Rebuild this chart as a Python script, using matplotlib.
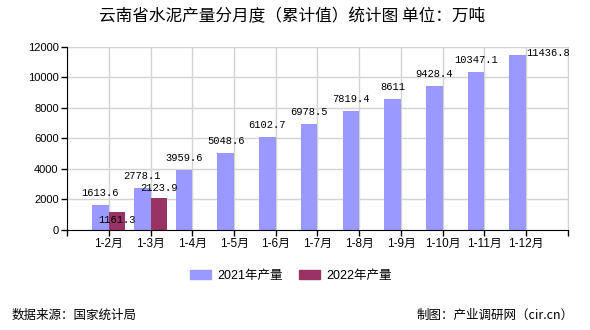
import numpy as np
import matplotlib
matplotlib.use("Agg")
import matplotlib.pyplot as plt
from matplotlib.patches import Patch

plt.rcParams['font.family'] = ['Liberation Sans', 'Noto Sans CJK SC', 'DejaVu Sans']

# cumulative cement output, 10k tons
months = ['1-2月', '1-3月', '1-4月', '1-5月', '1-6月', '1-7月', '1-8月',
          '1-9月', '1-10月', '1-11月', '1-12月']
out_2021 = [1613.6, 2778.1, 3959.6, 5048.6, 6102.7, 6978.5, 7819.4,
            8611, 9428.4, 10347.1, 11436.8]
out_2022 = [1161.3, 2123.9]
label_2021 = ['1613.6', '2778.1', '3959.6', '5048.6', '6102.7', '6978.5', '7819.4',
              '8611', '9428.4', '10347.1', '11436.8']
label_2022 = ['1161.3', '2123.9']

c21 = '#9999ff'
c22 = '#993366'
w = 0.4

fig = plt.figure(figsize=(5.9, 3.3), dpi=100)
ax = fig.add_axes([0.1136, 0.303, 0.849, 0.555])

x = np.arange(1, len(months) + 1)
x22 = x[:len(out_2022)]
ax.bar(x - w / 2, out_2021, width=w, color=c21, zorder=2)
ax.bar(x22 + w / 2, out_2022, width=w, color=c22, zorder=2)

mono = ['Liberation Mono', 'DejaVu Sans Mono']
for i, (xi, v) in enumerate(zip(x, out_2021)):
    if i == len(out_2021) - 1:
        # last one sits beside the bar top
        ax.annotate(label_2021[i], (xi, v), xytext=(0, 2), textcoords='offset pixels',
                    ha='left', va='center', fontsize=7.5, family=mono, zorder=3)
    else:
        ax.annotate(label_2021[i], (xi - w / 2, v), xytext=(0, 12), textcoords='offset pixels',
                    ha='center', va='center', fontsize=7.5, family=mono, zorder=3)
offs22 = [-8, 10]
for xi, v, t, o in zip(x22, out_2022, label_2022, offs22):
    ax.annotate(t, (xi + w / 2, v), xytext=(0, o), textcoords='offset pixels',
                ha='center', va='center', fontsize=7.5, family=mono, zorder=3)

ax.set_xlim(0, 12)
ax.set_ylim(0, 12000)
ax.set_xticks(np.arange(13))
ax.set_xticklabels([''] + months + [''], fontsize=8.5)
ax.set_yticks(np.arange(0, 12001, 2000))
ax.set_yticklabels([str(v) for v in range(0, 12001, 2000)], fontsize=8)
ax.tick_params(direction='out', length=4, width=1, color='black', pad=2)

ax.grid(True, color='#d3d3d3', linewidth=1, zorder=0)
ax.set_axisbelow(True)
for s in ['top', 'right']:
    ax.spines[s].set_color('#d3d3d3')
for s in ['left', 'bottom']:
    ax.spines[s].set_color('black')
    ax.spines[s].set_zorder(4)

fig.text(0.495, 0.948, '云南省水泥产量分月度（累计值）统计图 单位：万吨',
         ha='center', va='center', fontsize=12, family=['Noto Sans CJK SC'])

handles = [Patch(color=c21, label='2021年产量'), Patch(color=c22, label='2022年产量')]
fig.legend(handles=handles, loc='center', bbox_to_anchor=(0.493, 0.164), ncol=2,
           frameon=False, fontsize=9, handlelength=1.7, handleheight=0.8,
           handletextpad=0.5, columnspacing=1.3)

fig.text(0.019, 0.045, '数据来源：国家统计局', ha='left', va='center', fontsize=9,
         family=['Noto Sans CJK SC'])
fig.text(0.972, 0.045, '制图：产业调研网（cir.cn）', ha='right', va='center', fontsize=9,
         family=['Noto Sans CJK SC'])

fig.savefig('out.png', dpi=100)
